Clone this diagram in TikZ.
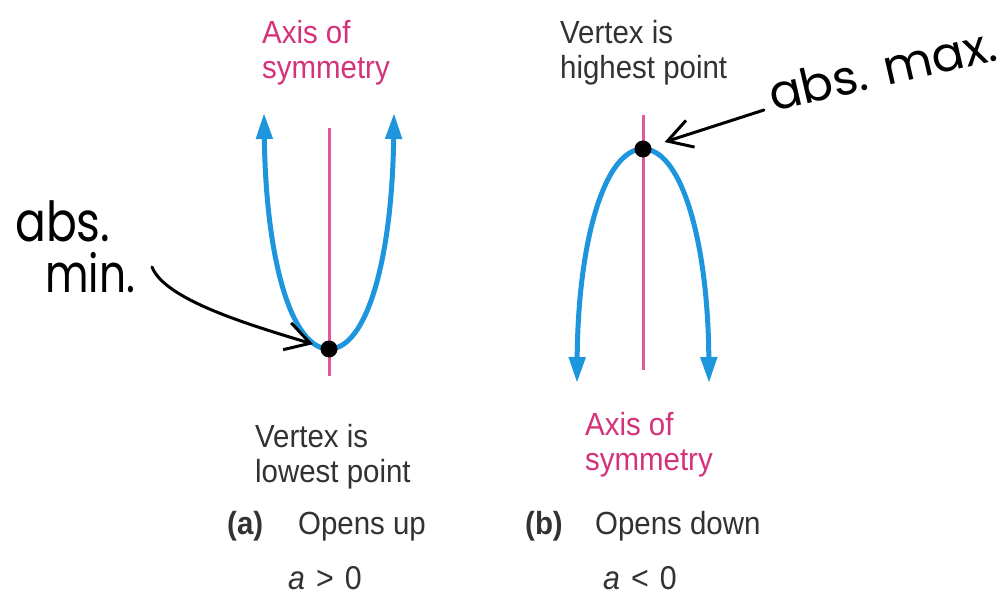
\documentclass[tikz,border=0pt]{standalone}
\usepackage{fontspec}
\setmainfont{Liberation Sans}[FakeStretch=0.92]
\newfontfamily\handfont{Poppins}
\usetikzlibrary{arrows.meta}
\definecolor{curveblue}{RGB}{30,150,222}
\definecolor{axispink}{RGB}{226,88,158}
\definecolor{labelpink}{RGB}{212,50,122}
\definecolor{textgray}{RGB}{50,50,50}
\begin{document}
\begin{tikzpicture}[x=1pt,y=-1pt,
  curve/.style={line width=5pt, draw=curveblue,
    {Stealth[length=26pt,width=16pt,inset=0pt,fill=curveblue]}-{Stealth[length=26pt,width=16pt,inset=0pt,fill=curveblue]}},
  axisline/.style={line width=3pt, draw=axispink},
  vdot/.style={circle, fill=black, inner sep=0pt, minimum size=17pt},
  pinklabel/.style={text=labelpink, font=\fontsize{32}{35}\selectfont, align=left, inner sep=0pt, anchor=north west},
  graylabel/.style={text=textgray, font=\fontsize{32}{35}\selectfont, align=left, inner sep=0pt, anchor=north west},
  caption/.style={text=textgray, font=\fontsize{32}{35}\selectfont, inner sep=0pt, anchor=base west},
  hand/.style={font=\handfont\fontsize{48}{50}\selectfont, inner sep=0pt, anchor=base west},
  handarrow/.style={line width=3pt, line cap=round, line join=round, -{Straight Barb[length=24pt,width=28pt]}}
]
\useasboundingbox (0,0) rectangle (1002,596);
\fill[white] (0,0) rectangle (1002,596);

% (a) opens up
\coordinate (atop) at (329,128);
\coordinate (abot) at (329,376);
\draw[axisline] (atop) -- (abot);
\draw[curve] (264,113) .. controls (266,262) and (292,349) .. (329,349)
                       .. controls (366,349) and (392,262) .. (394,113);
\node[vdot] (vmin) at (329,349) {};

% (b) opens down
\coordinate (btop) at (643,115);
\coordinate (bbot) at (643,370);
\draw[axisline] (btop) -- (bbot);
\draw[curve] (577,383) .. controls (578,240) and (605,149) .. (643,149)
                       .. controls (681,149) and (708,240) .. (709,383);
\node[vdot] (vmax) at (643,149) {};

% labels
\node[pinklabel] (axisA) at (262,20) {Axis of\\symmetry};
\node[graylabel] (vertexB) at (560,20) {Vertex is\\highest point};
\node[graylabel] (vertexA) at (255,424) {Vertex is\\lowest point};
\node[pinklabel] (axisB) at (585,412) {Axis of\\symmetry};

\node[caption, font=\bfseries\fontsize{32}{35}\selectfont] (capA) at (227,534) {(a)};
\node[caption] (opA) at (298,534) {Opens up};
\node[caption, font=\bfseries\fontsize{32}{35}\selectfont] (capB) at (525,534) {(b)};
\node[caption] (opB) at (595,534) {Opens down};
\node[caption, font=\fontsize{33}{35}\selectfont] (condA) at (288,589) {\textit{a}\,\,>\,\,0};
\node[caption, font=\fontsize{33}{35}\selectfont] (condB) at (603,589) {\textit{a}\,\,<\,\,0};

% handwritten annotations
\node[hand] (abs) at (15,242) {\scalebox{0.95}[1.15]{abs.}};
\node[hand] (min) at (45,293) {\scalebox{0.88}[1.1]{min.}};
\node[hand, rotate=13] (absmax) at (773,112) {abs. max.};
\coordinate (minstart) at (152,267);
\coordinate (maxstart) at (764,110);
\draw[handarrow, shorten >=8pt] (minstart) .. controls (165,300) and (250,325) .. (vmin);
\draw[handarrow, shorten >=14pt] (maxstart) -- (vmax);
\end{tikzpicture}
\end{document}
